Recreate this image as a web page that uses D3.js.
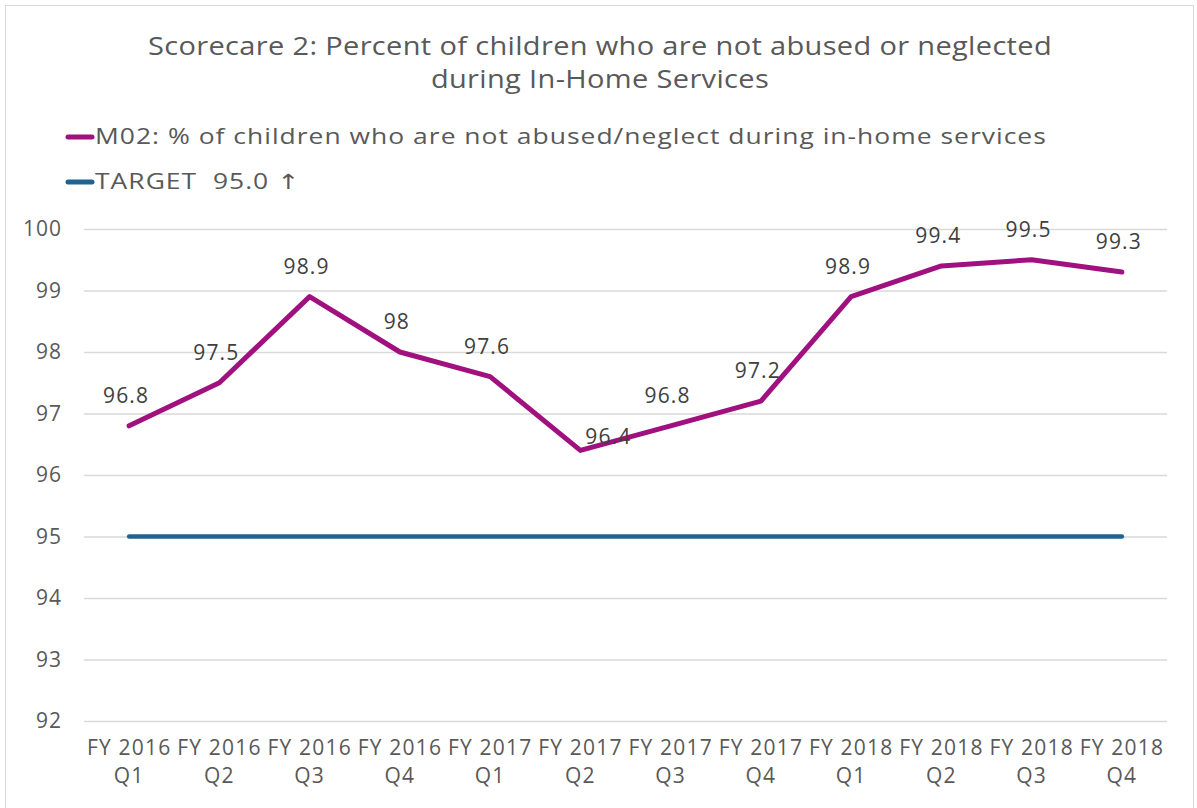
<!DOCTYPE html>
<html>
<head>
<meta charset="utf-8">
<script src="https://cdn.jsdelivr.net/npm/d3@7"></script>
<style>
  body { margin: 0; background: #fff; }
  svg { font-family: "Open Sans", sans-serif; }
</style>
</head>
<body>
<svg id="chart" width="1197" height="808"></svg>
<script>
const quarters = ["FY 2016 Q1", "FY 2016 Q2", "FY 2016 Q3", "FY 2016 Q4",
  "FY 2017 Q1", "FY 2017 Q2", "FY 2017 Q3", "FY 2017 Q4",
  "FY 2018 Q1", "FY 2018 Q2", "FY 2018 Q3", "FY 2018 Q4"];
const m02 = [96.8, 97.5, 98.9, 98, 97.6, 96.4, 96.8, 97.2, 98.9, 99.4, 99.5, 99.3];
const target = [95, 95, 95, 95, 95, 95, 95, 95, 95, 95, 95, 95];
const yTicks = [92, 93, 94, 95, 96, 97, 98, 99, 100];
const seriesNames = ["M02: % of children who are not abused/neglect during in-home services", "TARGET  95.0 \u2191"];
const titleLines = ["Scorecare 2: Percent of children who are not abused or neglected", "during In-Home Services"];

const svg = d3.select("#chart");
const purple = "#A0117F", blue = "#1F6391", txt = "#595959";

svg.append("rect")
  .attr("x", 5.5).attr("y", 5.5)
  .attr("width", 1188).attr("height", 808)
  .attr("fill", "#fff").attr("stroke", "#d9d9d9");

const x = d3.scaleBand().domain(quarters).range([84, 1167]);
const y = d3.scaleLinear().domain([92, 100]).range([721, 229]);

// title (century gothic is wide, so stretch a little)
svg.append("g")
  .attr("transform", "translate(600,0) scale(1.16,1)")
  .selectAll("text")
  .data(titleLines)
  .join("text")
  .attr("x", 0).attr("y", (d, i) => 55 + i * 33)
  .attr("text-anchor", "middle")
  .attr("font-size", 25).attr("letter-spacing", 0.3).attr("fill", txt)
  .text(d => d);

// legend
const leg = svg.append("g").selectAll("g")
  .data(seriesNames)
  .join("g")
  .attr("transform", (d, i) => `translate(0,${137 + i * 45})`);
leg.append("line")
  .attr("x1", 68).attr("x2", 92)
  .attr("stroke", (d, i) => i ? blue : purple)
  .attr("stroke-width", 5).attr("stroke-linecap", "round");
const legText = leg.append("text")
  .attr("transform", "translate(95,0) scale(1.26,1)")
  .attr("dy", "0.35em")
  .attr("font-size", 21).attr("letter-spacing", 0.8).attr("fill", txt)
  .attr("xml:space", "preserve");
legText.append("tspan").text(d => d.replace("\u2191", ""));
legText.filter(d => d.includes("\u2191")).append("tspan")
  .attr("font-family", "DejaVu Sans").attr("fill", txt).text("\u2191");

// grid + y axis
const yAxis = svg.append("g")
  .attr("transform", "translate(84,0)")
  .call(d3.axisLeft(y).tickValues(yTicks).tickSize(-(1167 - 84)).tickPadding(22));
yAxis.select(".domain").remove();
yAxis.selectAll(".tick line").attr("stroke", "#d9d9d9").attr("stroke-width", 1.5);
yAxis.selectAll(".tick text").attr("font-size", 21).attr("fill", txt)
  .attr("font-family", "'Open Sans', sans-serif").attr("letter-spacing", 1);

// x labels
const xl = svg.append("g").selectAll("text")
  .data(quarters)
  .join("text")
  .attr("text-anchor", "middle")
  .attr("font-size", 21).attr("letter-spacing", 1.2).attr("fill", txt)
  .attr("transform", d => `translate(${x(d) + x.bandwidth() / 2},755)`);
xl.append("tspan").attr("x", 0).attr("y", 0).text(d => d.slice(0, 7));
xl.append("tspan").attr("x", 0).attr("y", 28).text(d => d.slice(8));

const cx = (d, i) => x(quarters[i]) + x.bandwidth() / 2;
const line = d3.line().x(cx).y(d => y(d));

svg.append("path").datum(target)
  .attr("d", line).attr("fill", "none")
  .attr("stroke", blue).attr("stroke-width", 4.5).attr("stroke-linecap", "round");

svg.append("path").datum(m02)
  .attr("d", line).attr("fill", "none")
  .attr("stroke", purple).attr("stroke-width", 5).attr("stroke-linecap", "round")
  .attr("stroke-linejoin", "round");

// value labels: above each point, to the right for a local dip
const isDip = i => i > 0 && i < m02.length - 1 && m02[i] < m02[i - 1] && m02[i] < m02[i + 1];
svg.append("g").selectAll("text")
  .data(m02)
  .join("text")
  .attr("x", (d, i) => cx(d, i) + (isDip(i) ? 28 : -3))
  .attr("y", (d, i) => y(d) + (isDip(i) ? -6 : -23))
  .attr("text-anchor", "middle")
  .attr("font-size", 21).attr("letter-spacing", 1.2).attr("fill", "#404040")
  .text(d => d);
</script>
</body>
</html>
